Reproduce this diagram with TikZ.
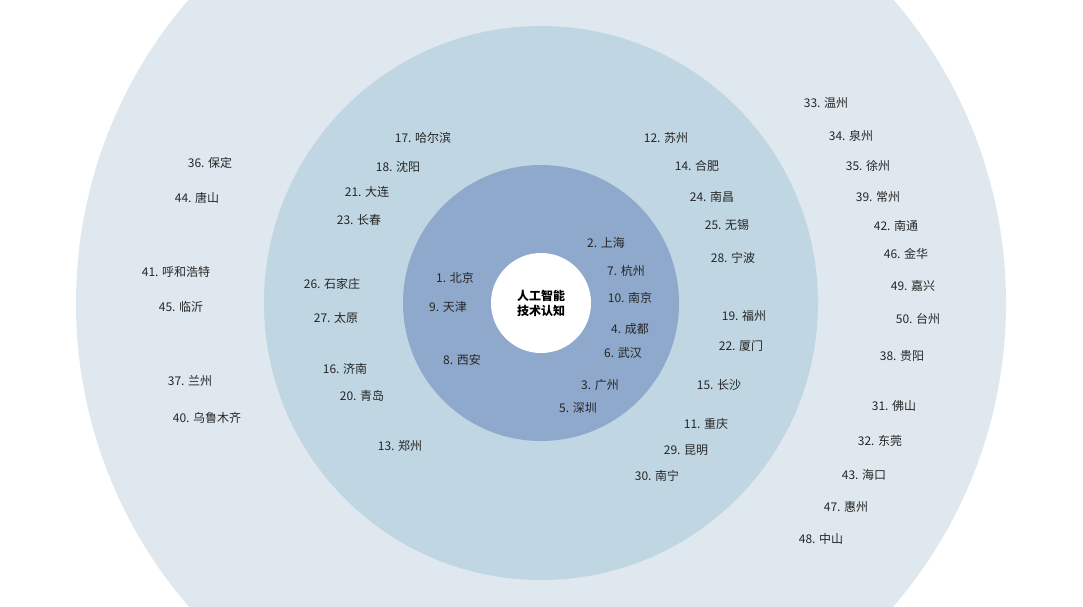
\documentclass[tikz,border=0pt]{standalone}
\usepackage{fontspec}
\setmainfont{Noto Sans CJK SC}
\begin{document}
\begin{tikzpicture}[x=1pt,y=-1pt,
  lab/.style={font=\fontsize{12}{14}\selectfont,text=black!85,inner sep=1pt}]
\definecolor{c1}{HTML}{DFE8EE}
\definecolor{c2}{HTML}{C0D6E2}
\definecolor{c3}{HTML}{8FA9CC}
\useasboundingbox (0,0) rectangle (1083,606);
\clip (0,0) rectangle (1083,606);
\fill[white] (0,0) rectangle (1083,606);
\fill[c1] (541,303) circle (465);
\fill[c2] (541,303) circle (277);
\fill[c3] (541,303) circle (138);
\fill[white] (541,303) circle (50);
\node[font=\fontsize{12}{15}\selectfont\bfseries,align=center] (ctr) at (541,303) {人工智能\\技术认知};
% inner
\node[lab] (n1) at (455,278) {1. 北京};
\node[lab] (n9) at (448,307) {9. 天津};
\node[lab] (n8) at (462,360) {8. 西安};
\node[lab] (n2) at (606,243) {2. 上海};
\node[lab] (n7) at (626,271) {7. 杭州};
\node[lab] (n10) at (630,298) {10. 南京};
\node[lab] (n4) at (630,329) {4. 成都};
\node[lab] (n6) at (623,353) {6. 武汉};
\node[lab] (n3) at (600,385) {3. 广州};
\node[lab] (n5) at (578,408) {5. 深圳};
% middle
\node[lab] (n17) at (423,138) {17. 哈尔滨};
\node[lab] (n18) at (398,167) {18. 沈阳};
\node[lab] (n21) at (367,192) {21. 大连};
\node[lab] (n23) at (359,220) {23. 长春};
\node[lab] (n26) at (332,284) {26. 石家庄};
\node[lab] (n27) at (336,318) {27. 太原};
\node[lab] (n16) at (345,369) {16. 济南};
\node[lab] (n20) at (362,396) {20. 青岛};
\node[lab] (n13) at (400,446) {13. 郑州};
\node[lab] (n12) at (666,138) {12. 苏州};
\node[lab] (n14) at (697,166) {14. 合肥};
\node[lab] (n24) at (712,197) {24. 南昌};
\node[lab] (n25) at (727,225) {25. 无锡};
\node[lab] (n28) at (733,258) {28. 宁波};
\node[lab] (n19) at (744,316) {19. 福州};
\node[lab] (n22) at (741,346) {22. 厦门};
\node[lab] (n15) at (719,385) {15. 长沙};
\node[lab] (n11) at (706,424) {11. 重庆};
\node[lab] (n29) at (686,450) {29. 昆明};
\node[lab] (n30) at (657,476) {30. 南宁};
% outer left
\node[lab] (n36) at (210,163) {36. 保定};
\node[lab] (n44) at (197,198) {44. 唐山};
\node[lab] (n41) at (176,272) {41. 呼和浩特};
\node[lab] (n45) at (181,307) {45. 临沂};
\node[lab] (n37) at (190,381) {37. 兰州};
\node[lab] (n40) at (207,418) {40. 乌鲁木齐};
% outer right
\node[lab] (n33) at (826,103) {33. 温州};
\node[lab] (n34) at (851,136) {34. 泉州};
\node[lab] (n35) at (868,166) {35. 徐州};
\node[lab] (n39) at (878,197) {39. 常州};
\node[lab] (n42) at (896,226) {42. 南通};
\node[lab] (n46) at (906,254) {46. 金华};
\node[lab] (n49) at (913,286) {49. 嘉兴};
\node[lab] (n50) at (918,319) {50. 台州};
\node[lab] (n38) at (902,356) {38. 贵阳};
\node[lab] (n31) at (894,406) {31. 佛山};
\node[lab] (n32) at (880,441) {32. 东莞};
\node[lab] (n43) at (864,475) {43. 海口};
\node[lab] (n47) at (846,507) {47. 惠州};
\node[lab] (n48) at (821,539) {48. 中山};
\end{tikzpicture}
\end{document}
